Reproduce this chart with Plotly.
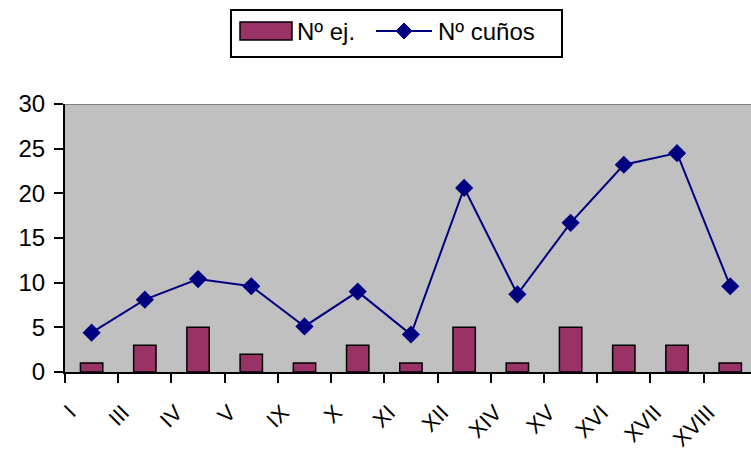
import plotly.graph_objects as go

categories = ["I", "III", "IV", "V", "IX", "X", "XI", "XII", "XIV", "XV", "XVI", "XVII", "XVIII"]
n_ej = [1, 3, 5, 2, 1, 3, 1, 5, 1, 5, 3, 3, 1]
n_cunos = [4.4, 8.1, 10.4, 9.6, 5.1, 9.0, 4.2, 20.6, 8.7, 16.7, 23.2, 24.5, 9.6]
y_ticks = [0, 5, 10, 15, 20, 25, 30]

font_family = "Arial, Liberation Sans, sans-serif"
BAR_COLOR = "#993366"
LINE_COLOR = "#000080"

fig = go.Figure()
fig.add_trace(go.Bar(
    x=categories, y=n_ej, name="Nº ej.",
    marker=dict(color=BAR_COLOR, line=dict(color="black", width=1.5)),
    width=0.42,
))
fig.add_trace(go.Scatter(
    x=categories, y=n_cunos, name="Nº cuños", mode="lines+markers",
    line=dict(color=LINE_COLOR, width=2),
    marker=dict(symbol="diamond", size=14, color=LINE_COLOR),
))

L, T, B, W, H = 65, 104, 80, 751, 452
PW = W - L
PH = H - T - B


def px(x):
    return (x - L) / PW


def py(y):
    return (H - B - y) / PH


fig.update_layout(
    width=W, height=H,
    margin=dict(l=L, r=0, t=T, b=B, autoexpand=False),
    paper_bgcolor="white",
    plot_bgcolor="#C0C0C0",
    font=dict(family=font_family, size=22, color="black"),
    showlegend=False,
)
fig.update_xaxes(
    type="category", range=[-0.5, 12.39],
    showline=True, linecolor="black", linewidth=2,
    ticks="outside", tickson="boundaries", ticklen=9, tickwidth=2, tickcolor="black",
    tickangle=-45, showgrid=False, automargin=False,
    ticklabelshift=-22, ticklabelstandoff=17,
    tickfont=dict(size=22),
)
fig.update_yaxes(
    range=[0, 30], tickvals=y_ticks,
    showline=True, linecolor="black", linewidth=2,
    ticks="outside", ticklen=9, tickwidth=2, tickcolor="black",
    showgrid=False, zeroline=False, automargin=False,
    ticklabelstandoff=4,
    tickfont=dict(size=24),
)
# top border of plot area
fig.add_shape(type="line", xref="paper", yref="y", x0=0, x1=1, y0=30, y1=30,
              line=dict(color="#808080", width=2))

# legend (drawn manually to match the wide Excel-style symbols)
fig.add_shape(type="rect", xref="paper", yref="paper",
              x0=px(231), x1=px(562), y0=py(57), y1=py(10),
              line=dict(color="black", width=2), fillcolor="white")
fig.add_shape(type="rect", xref="paper", yref="paper",
              x0=px(240), x1=px(292), y0=py(40), y1=py(22),
              line=dict(color="black", width=1.5), fillcolor=BAR_COLOR)
fig.add_annotation(xref="paper", yref="paper", x=px(295), y=py(32),
                   xanchor="left", yanchor="middle", showarrow=False,
                   text="Nº ej.", font=dict(size=24))
fig.add_shape(type="line", xref="paper", yref="paper",
              x0=px(376), x1=px(432), y0=py(31), y1=py(31),
              line=dict(color=LINE_COLOR, width=2))
cx, cy, r = 404, 31, 8
fig.add_shape(type="path", xref="paper", yref="paper",
              path=f"M {px(cx - r)} {py(cy)} L {px(cx)} {py(cy - r)} L {px(cx + r)} {py(cy)} L {px(cx)} {py(cy + r)} Z",
              line=dict(color=LINE_COLOR, width=1), fillcolor=LINE_COLOR)
fig.add_annotation(xref="paper", yref="paper", x=px(436), y=py(32),
                   xanchor="left", yanchor="middle", showarrow=False,
                   text="Nº cuños", font=dict(size=24))

fig.write_html("out.html", config={"displayModeBar": False},
               post_script="document.body.style.margin='0';document.body.style.overflow='hidden';")
